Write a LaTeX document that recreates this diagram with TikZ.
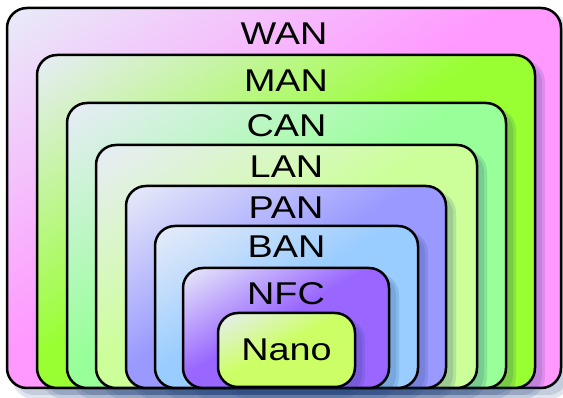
\documentclass[tikz,border=0pt]{standalone}
\usepackage{fontspec}
\setmainfont{Liberation Sans}
\definecolor{shadowc}{HTML}{20407A}
% diagonal shading: light (E8ECF8) at top-left, colour R G B from mid-diagonal on
\newcommand\mkshade[4]{%
  \pgfdeclarefunctionalshading{sh#1}{\pgfpointorigin}{\pgfpoint{100bp}{100bp}}{}{%
    sub 50 add 100 div 0.45 div dup 1 gt {pop 1} if dup 0 lt {pop 0} if
    dup #2 0.910 sub mul 0.910 add exch
    dup #3 0.925 sub mul 0.925 add exch
    #4 0.973 sub mul 0.973 add}}
\mkshade{wan}{1}{0.6}{1}
\mkshade{man}{0.6}{1}{0.2}
\mkshade{can}{0.6}{1}{0.6}
\mkshade{lan}{0.8}{1}{0.6}
\mkshade{pan}{0.6}{0.6}{1}
\mkshade{ban}{0.6}{0.8}{1}
\mkshade{nfc}{0.6}{0.4}{1}
\mkshade{nano}{0.8}{1}{0.4}
\newcommand\netbox[7]{%
  \fill[shadowc, opacity=.14, rounded corners=22pt] (#2+5,#3+5) rectangle (#4+10,#5+11);
  \fill[shadowc, opacity=.14, rounded corners=20pt] (#2+7,#3+7) rectangle (#4+7,#5+7);
  \shade[boxline, shading=sh#1] (#2,#3) rectangle (#4,#5);
  \node[lbl] (#1) at ({(#2+#4)/2}, #7) {#6};
}
\begin{document}
\begin{tikzpicture}[x=1pt, y=-1pt,
  boxline/.style={draw=black, line width=2.5pt, rounded corners=20pt},
  lbl/.style={inner sep=0pt, xscale=1.2, font=\fontsize{31.5}{31.5}\selectfont}]
\useasboundingbox (0,0) rectangle (563,398);
\netbox{wan}{7}{8}{561}{388}{WAN}{34}
\netbox{man}{37}{55}{535}{388}{MAN}{81}
\netbox{can}{67}{103}{506}{388}{CAN}{126}
\netbox{lan}{96}{145}{477}{388}{LAN}{167}
\netbox{pan}{126}{186}{446}{388}{PAN}{208}
\netbox{ban}{155}{226}{418}{388}{BAN}{247}
\netbox{nfc}{183}{268}{389}{388}{NFC}{294}
\netbox{nano}{218}{313}{355}{387}{Nano}{350}
\end{tikzpicture}
\end{document}
